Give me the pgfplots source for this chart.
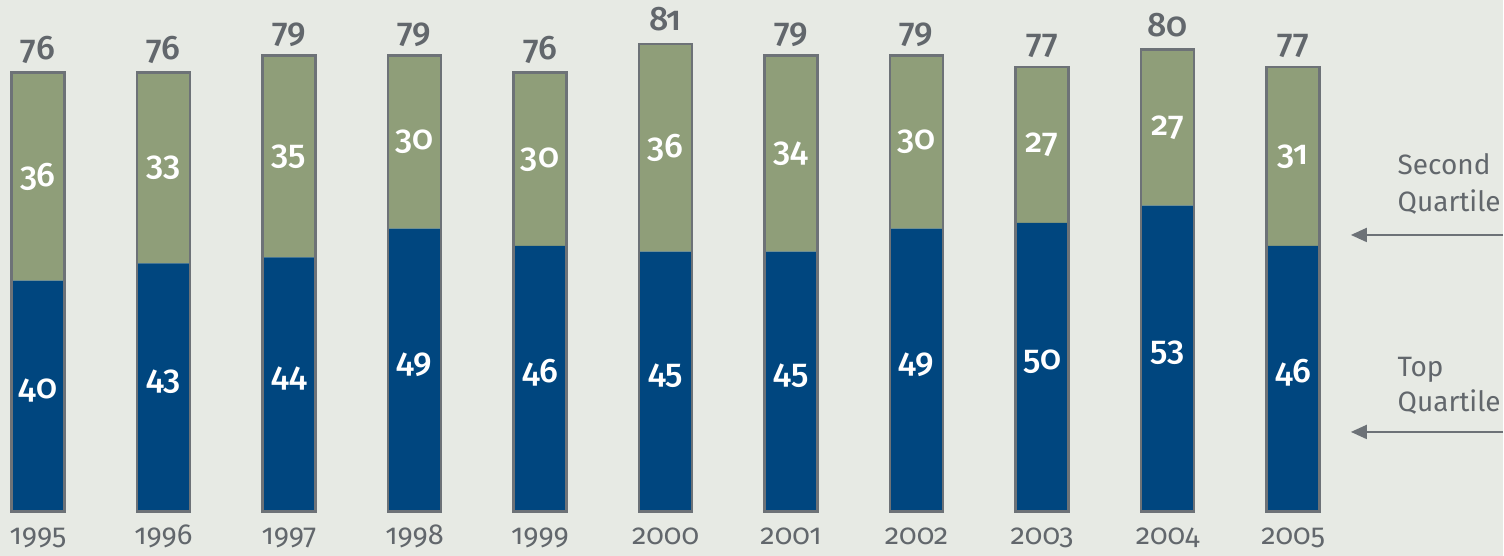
\documentclass[border=0pt]{standalone}
\usepackage{pgfplots}
\pgfplotsset{compat=1.18}
\usepackage{pgfplotstable}
\usetikzlibrary{arrows.meta}
\usepackage{fontspec}
\setmainfont{Fira Sans}[Numbers=OldStyle]
\newfontfamily\medfont{Fira Sans}[UprightFont=* Medium, Numbers=OldStyle]
\definecolor{bg}{HTML}{E7EAE4}
\definecolor{qblue}{HTML}{00467F}
\definecolor{qgreen}{HTML}{8F9E79}
\definecolor{qgrey}{HTML}{6D7277}
\definecolor{txtgrey}{HTML}{62676C}

\pgfplotstableread{
x year top second total
0 1995 40 36 76
1 1996 43 33 76
2 1997 44 35 79
3 1998 49 30 79
4 1999 46 30 76
5 2000 45 36 81
6 2001 45 34 79
7 2002 49 30 79
8 2003 50 27 77
9 2004 53 27 80
10 2005 46 31 77
}\data

\pgfplotsset{myaxis/.style={
  scale only axis, width=752pt, height=278pt,
  xmin=-0.3025, xmax=11.672, ymin=-7.61, ymax=88.58,
  hide axis, clip=false,
  /pgf/number format/assume math mode=true,
}}

\begin{document}
\begin{tikzpicture}
\fill[bg] (0,0) rectangle (752pt,278pt);
\begin{axis}[myaxis, ybar stacked, bar width=26.5pt]
\addplot[fill=qblue, draw=none] table[x=x,y=top]{\data};
\addplot[fill=qgreen, draw=none] table[x=x,y=second]{\data};
\end{axis}
\begin{axis}[myaxis]
\addplot[ybar, bar width=26.5pt, draw=qgrey, line width=1.2pt, fill=none,
  nodes near coords, point meta=explicit symbolic,
  every node near coord/.style={anchor=base, yshift=6.5pt, inner sep=0pt, text=txtgrey, font=\fontsize{17}{20}\selectfont\medfont}]
  table[x=x,y=total,meta=total]{\data};
\end{axis}
\begin{axis}[myaxis]
\addplot[only marks, mark=*, mark size=0pt, mark options={draw=none,fill=none},
  nodes near coords, point meta=explicit symbolic,
  every node near coord/.style={anchor=center, inner sep=0pt, text=white, font=\fontsize{17}{20}\selectfont\medfont}]
  table[x=x,y expr=\thisrow{top}/2+1,meta=top]{\data};
\addplot[only marks, mark=*, mark size=0pt, mark options={draw=none,fill=none},
  nodes near coords, point meta=explicit symbolic,
  every node near coord/.style={anchor=center, inner sep=0pt, text=white, font=\fontsize{17}{20}\selectfont\medfont}]
  table[x=x,y expr=\thisrow{top}+\thisrow{second}/2,meta=second]{\data};
\addplot[only marks, mark=*, mark size=0pt, mark options={draw=none,fill=none},
  nodes near coords, point meta=explicit symbolic,
  every node near coord/.style={anchor=base, inner sep=0pt, text=txtgrey, font=\fontsize{14.5}{17}\selectfont}]
  table[x=x,y expr=-5.7,meta=year]{\data};
\node[anchor=base west, inner sep=0pt, text=txtgrey, font=\fontsize{14}{16}\selectfont] at (axis cs:10.83,58.3) {Second};
\node[anchor=base west, inner sep=0pt, text=txtgrey, font=\fontsize{14}{16}\selectfont] at (axis cs:10.83,51.9) {Quartile};
\node[anchor=base west, inner sep=0pt, text=txtgrey, font=\fontsize{14}{16}\selectfont] at (axis cs:10.83,23.4) {Top};
\node[anchor=base west, inner sep=0pt, text=txtgrey, font=\fontsize{14}{16}\selectfont] at (axis cs:10.83,17.3) {Quartile};
\draw[qgrey, line width=1pt, -{Triangle[length=8pt,width=7pt]}] (axis cs:11.672,47.9) -- (axis cs:10.46,47.9);
\draw[qgrey, line width=1pt, -{Triangle[length=8pt,width=7pt]}] (axis cs:11.672,13.8) -- (axis cs:10.46,13.8);
\end{axis}
\end{tikzpicture}
\end{document}
